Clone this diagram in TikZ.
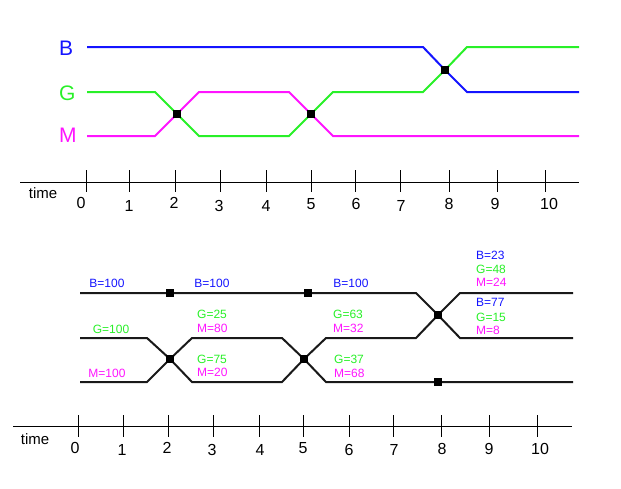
\documentclass[tikz,border=0pt]{standalone}
\usepackage{fontspec}
\setmainfont{Liberation Sans}
\begin{document}
\begin{tikzpicture}[x=1pt,y=-1pt,
  blu/.style={line width=2pt,draw={rgb,255:red,20;green,20;blue,255}},
  grn/.style={line width=2pt,draw={rgb,255:red,40;green,240;blue,40}},
  mag/.style={line width=2pt,draw={rgb,255:red,255;green,20;blue,255}},
  blk/.style={line width=2pt,draw=black!90},
  sq/.style={fill=black,minimum size=8pt,inner sep=0pt,outer sep=0pt},
  axis/.style={line width=1pt,draw=black},
  tick/.style={line width=1pt,draw=black},
  big/.style={font=\fontsize{21}{21}\selectfont,anchor=west,inner sep=0pt},
  ticklab/.style={font=\fontsize{16}{16}\selectfont,inner sep=0pt},
  timelab/.style={font=\fontsize{15}{15}\selectfont,inner sep=0pt},
  val/.style={font=\fontsize{12}{12}\selectfont,inner sep=0pt},
  valw/.style={val,anchor=west}]
\definecolor{cB}{RGB}{20,20,255}
\definecolor{cG}{RGB}{40,240,40}
\definecolor{cM}{RGB}{255,20,255}
\useasboundingbox (0,0) rectangle (621,488);

% ---------- top panel ----------
\node[big,text=cB] (lB) at (59,48) {B};
\node[big,text=cG] (lG) at (59,93) {G};
\node[big,text=cM] (lM) at (59,135) {M};

\coordinate (X1) at (177,114);
\coordinate (X2) at (311,114);
\coordinate (X3) at (445,70);

\coordinate (bS) at (87,47);  \coordinate (b1) at (423,47);
\coordinate (b2) at (467,92); \coordinate (bE) at (579,92);
\coordinate (gS) at (87,92);  \coordinate (g1) at (155,92);
\coordinate (g2) at (199,136);\coordinate (g3) at (289,136);
\coordinate (g4) at (333,92); \coordinate (g5) at (423,92);
\coordinate (g6) at (467,47); \coordinate (gE) at (579,47);
\coordinate (mS) at (87,136); \coordinate (m1) at (155,136);
\coordinate (m2) at (199,92); \coordinate (m3) at (289,92);
\coordinate (m4) at (333,136);\coordinate (mE) at (579,136);

\draw[blu] (bS) -- (b1) -- (X3) -- (b2) -- (bE);
\draw[grn] (gS) -- (g1) -- (X1) -- (g2) -- (g3) -- (X2) -- (g4) -- (g5) -- (X3) -- (g6) -- (gE);
\draw[mag] (mS) -- (m1) -- (X1) -- (m2) -- (m3) -- (X2) -- (m4) -- (mE);

\node[sq] (s1) at (X1) {};
\node[sq] (s2) at (X2) {};
\node[sq] (s3) at (X3) {};

% top axis
\coordinate (aS) at (20,182); \coordinate (aE) at (579,182);
\draw[axis] (aS) -- (aE);
\foreach \x/\lx/\ly/\t in {86/81/203/0,129/129/206/1,175/174/203/2,220/219/206/3,266/266/206/4,311/311/204/5,355/356/204/6,400/401/206/7,449/449/204/8,497/495/204/9,545/549/204/10}{
  \coordinate (tt\t) at (\x,170); \coordinate (tb\t) at (\x,192);
  \draw[tick] (tt\t) -- (tb\t);
  \node[ticklab] (tl\t) at (\lx,\ly) {\t};
}
\node[timelab] (time1) at (43,193) {time};

% ---------- bottom panel ----------
\coordinate (Y1) at (170,359);
\coordinate (Y2) at (304,359);
\coordinate (Y3) at (438,315);

\coordinate (pS) at (80,293);  \coordinate (p1) at (416,293);
\coordinate (p2) at (460,338); \coordinate (pE) at (573,338);
\coordinate (qS) at (80,338);  \coordinate (q1) at (147,338);
\coordinate (q2) at (192,382); \coordinate (q3) at (282,382);
\coordinate (q4) at (326,338); \coordinate (q5) at (416,338);
\coordinate (q6) at (460,293); \coordinate (qE) at (573,293);
\coordinate (rS) at (80,382);  \coordinate (r1) at (147,382);
\coordinate (r2) at (192,338); \coordinate (r3) at (282,338);
\coordinate (r4) at (326,382); \coordinate (rE) at (573,382);

\draw[blk] (pS) -- (p1) -- (Y3) -- (p2) -- (pE);
\draw[blk] (qS) -- (q1) -- (Y1) -- (q2) -- (q3) -- (Y2) -- (q4) -- (q5) -- (Y3) -- (q6) -- (qE);
\draw[blk] (rS) -- (r1) -- (Y1) -- (r2) -- (r3) -- (Y2) -- (r4) -- (rE);

\node[sq] (u1) at (Y1) {};
\node[sq] (u2) at (Y2) {};
\node[sq] (u3) at (Y3) {};
\node[sq] (u4) at (170,293) {};
\node[sq] (u5) at (308,293) {};
\node[sq] (u6) at (438,382) {};

% value labels
\node[val,text=cB] (v1) at (107,283) {B=100};
\node[val,text=cB] (v2) at (212,283) {B=100};
\node[val,text=cB] (v3) at (351,283) {B=100};
\node[val,text=cG] (v4) at (111,329) {G=100};
\node[val,text=cM] (v5) at (107,373) {M=100};
\node[valw,text=cG] (v6) at (197,314) {G=25};
\node[valw,text=cM] (v7) at (197,328) {M=80};
\node[valw,text=cG] (v8) at (197,359) {G=75};
\node[valw,text=cM] (v9) at (197,372) {M=20};
\node[valw,text=cG] (v10) at (333,314) {G=63};
\node[valw,text=cM] (v11) at (333,328) {M=32};
\node[valw,text=cG] (v12) at (334,359) {G=37};
\node[valw,text=cM] (v13) at (334,373) {M=68};
\node[valw,text=cB] (v14) at (476,255) {B=23};
\node[valw,text=cG] (v15) at (476,269) {G=48};
\node[valw,text=cM] (v16) at (476,282) {M=24};
\node[valw,text=cB] (v17) at (476,302) {B=77};
\node[valw,text=cG] (v18) at (476,317) {G=15};
\node[valw,text=cM] (v19) at (476,330) {M=8};

% bottom axis
\coordinate (cS) at (13,426); \coordinate (cE) at (572,426);
\draw[axis] (cS) -- (cE);
\foreach \x/\lx/\ly/\t in {78/75/448/0,123/122/450/1,168/167/448/2,213/212/450/3,259/260/450/4,303/303/448/5,349/349/450/6,393/394/450/7,441/442/449/8,489/489/449/9,537/540/449/10}{
  \coordinate (ct\t) at (\x,415); \coordinate (cb\t) at (\x,437);
  \draw[tick] (ct\t) -- (cb\t);
  \node[ticklab] (cl\t) at (\lx,\ly) {\t};
}
\node[timelab] (time2) at (35,439) {time};
\end{tikzpicture}
\end{document}
